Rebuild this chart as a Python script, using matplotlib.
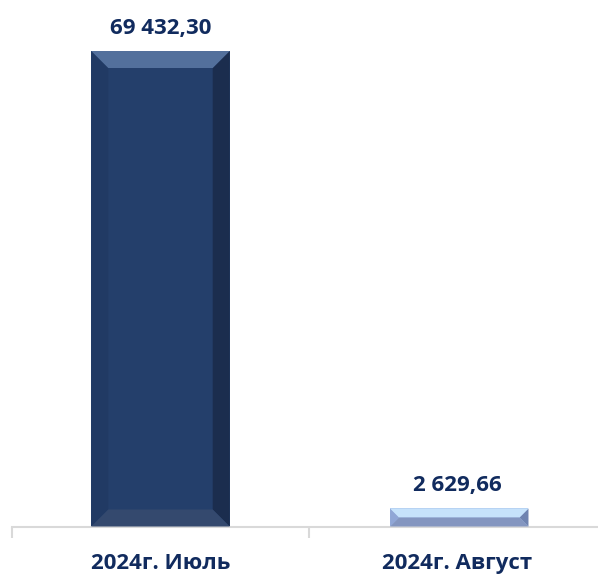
import matplotlib.pyplot as plt
from matplotlib.patches import Polygon

# data
categories = ["2024г. Июль", "2024г. Август"]
values = [69432.30, 2629.66]
value_labels = ["69 432,30", "2 629,66"]

# bevel colours per bar: face, top, bottom, left, right
bar_colors = [
    ("#243F6B", "#53709C", "#34496E", "#213A64", "#1B2D4E"),
    ("#A8C4EC", "#C6E2FB", "#8496C0", "#90A6D6", "#6F83B0"),
]
text_color = "#112B5E"

plt.rcParams['font.family'] = ['Open Sans', 'DejaVu Sans']

W, H = 598, 574
fig = plt.figure(figsize=(W / 100, H / 100), dpi=100)
# axes spans 12..606 px horizontally, baseline at 526.5 px from top
ax_left, ax_right = 12, 606
ax_bottom, ax_top = 526.5, 20
ax = fig.add_axes([ax_left / W, (H - ax_bottom) / H,
                   (ax_right - ax_left) / W, (ax_bottom - ax_top) / H])

ymax = 73960
ax.set_xlim(-0.5, 1.5)
ax.set_ylim(0, ymax)

bars = ax.bar(range(len(values)), values, width=0.466, color=[c[0] for c in bar_colors],
              linewidth=0, zorder=2)
bars[1].set_x(bars[1].get_x() + 0.006)

# pixel -> data conversions
px_x = 2.0 / (ax_right - ax_left)
px_y = ymax / (ax_bottom - ax_top)
bevel_px = 17

for rect, cols in zip(bars, bar_colors):
    x0 = rect.get_x()
    x1 = x0 + rect.get_width()
    y0 = 0
    y1 = rect.get_height()
    b_y = min(bevel_px * px_y, y1 / 2)
    b_x = b_y / px_y * px_x
    top = [(x0, y1), (x1, y1), (x1 - b_x, y1 - b_y), (x0 + b_x, y1 - b_y)]
    bottom = [(x0, y0), (x1, y0), (x1 - b_x, y0 + b_y), (x0 + b_x, y0 + b_y)]
    left = [(x0, y0), (x0, y1), (x0 + b_x, y1 - b_y), (x0 + b_x, y0 + b_y)]
    right = [(x1, y0), (x1, y1), (x1 - b_x, y1 - b_y), (x1 - b_x, y0 + b_y)]
    for poly, c in zip([left, right, top, bottom], cols[3:] + cols[1:3]):
        ax.add_patch(Polygon(poly, closed=True, facecolor=c, edgecolor="none", zorder=3))

for i, (v, lab) in enumerate(zip(values, value_labels)):
    ax.annotate(lab, (i, v), xytext=(0, 9), textcoords="offset points",
                ha="center", va="bottom", fontsize=16, fontweight="bold", color=text_color)

# axis styling
for s in ["top", "right", "left"]:
    ax.spines[s].set_visible(False)
ax.spines["bottom"].set_color("#D9D9D9")
ax.spines["bottom"].set_linewidth(1.5)
ax.set_yticks([])
ax.set_xticks([-0.5, 0.5, 1.5])
ax.set_xticklabels([])
ax.set_xticks([0, 1], minor=True)
ax.set_xticklabels(categories, minor=True, fontsize=16, fontweight="bold", color=text_color)
ax.tick_params(axis="x", which="major", length=8, width=1.5, color="#D9D9D9")
ax.tick_params(axis="x", which="minor", length=0, pad=19)

fig.savefig("out.png", dpi=100)
